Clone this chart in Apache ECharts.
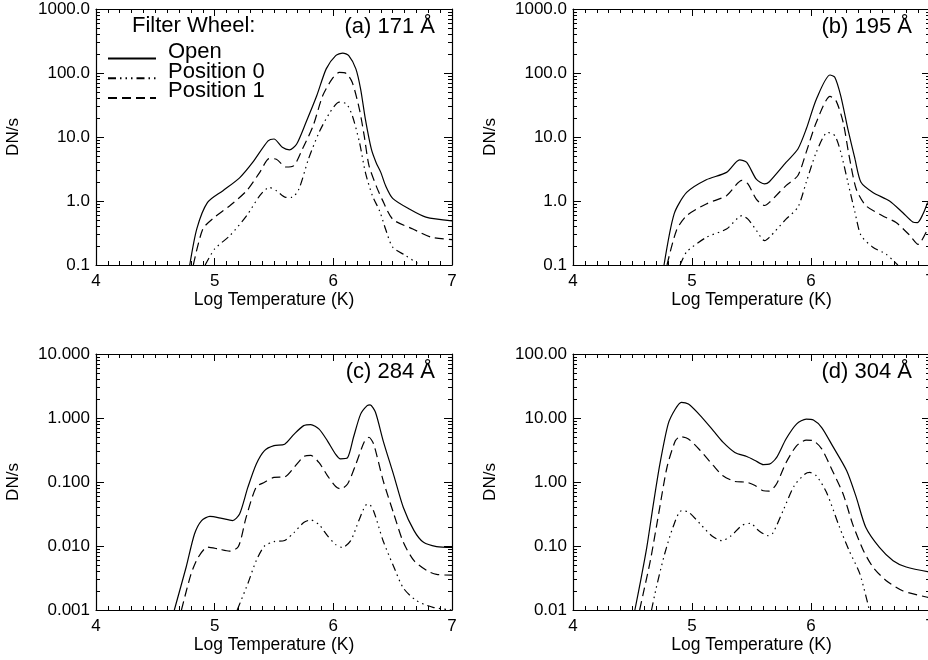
<!DOCTYPE html>
<html><head><meta charset="utf-8">
<script src="https://cdn.jsdelivr.net/npm/echarts@6/dist/echarts.min.js"></script>
<style>html,body{margin:0;padding:0;overflow:hidden;background:#fff}#c{width:932px;height:660px}</style>
</head><body><div id="c"></div><script>
// ---- data: [log T, DN/s] ----
const seriesNames = ['Open', 'Position 0', 'Position 1'];
const xTicks = [4, 5, 6, 7];
const minorMultipliers = [2, 3, 4, 5, 6, 7, 8, 9];

const a171Open = [[4.79,0.1],[4.85,0.37],[4.94,0.95],[5.07,1.45],[5.21,2.3],[5.32,4.0],[5.45,8.7],[5.50,9.3],[5.57,6.9],[5.63,6.3],[5.69,7.7],[5.77,17],[5.86,44],[5.94,116],[6.02,187],[6.08,205],[6.13,187],[6.19,116],[6.23,56],[6.27,19],[6.32,6.5],[6.36,4.0],[6.40,2.8],[6.44,1.74],[6.50,1.1],[6.64,0.75],[6.78,0.56],[7.0,0.49]];
const a171Pos0 = [[4.92,0.1],[5.0,0.178],[5.13,0.29],[5.27,0.59],[5.38,1.21],[5.46,1.63],[5.52,1.45],[5.60,1.14],[5.65,1.14],[5.71,1.54],[5.79,4.5],[5.88,11.8],[5.97,24],[6.05,35],[6.11,33],[6.16,21.5],[6.22,8.3],[6.27,2.8],[6.33,1.2],[6.39,0.70],[6.44,0.365],[6.50,0.19],[6.61,0.14],[6.73,0.1]];
const a171Pos1 = [[4.82,0.1],[4.90,0.365],[4.99,0.54],[5.13,0.85],[5.27,1.45],[5.38,2.8],[5.46,4.6],[5.52,4.5],[5.60,3.4],[5.67,3.6],[5.74,6.5],[5.83,15],[5.91,44],[5.99,81],[6.05,102],[6.11,98],[6.16,71],[6.22,27],[6.26,10.5],[6.30,3.6],[6.36,1.74],[6.41,1.07],[6.50,0.52],[6.67,0.365],[6.83,0.27],[7.0,0.25]];

const b195Open = [[4.765,0.1],[4.85,0.63],[4.955,1.36],[5.12,2.15],[5.29,2.8],[5.40,4.4],[5.46,4.0],[5.54,2.2],[5.61,1.85],[5.65,2.0],[5.79,4.0],[5.89,6.5],[5.96,13.3],[6.045,39],[6.16,93],[6.20,86],[6.25,44],[6.31,13.3],[6.37,4.5],[6.42,1.96],[6.52,1.36],[6.66,1.0],[6.77,0.66],[6.855,0.47],[6.895,0.46],[6.94,0.62],[6.98,0.95]];
const b195Pos0 = [[4.90,0.1],[4.955,0.16],[5.12,0.27],[5.29,0.365],[5.42,0.59],[5.47,0.52],[5.54,0.35],[5.61,0.24],[5.65,0.27],[5.79,0.52],[5.89,0.80],[5.96,1.96],[6.045,5.8],[6.14,11.8],[6.20,10.5],[6.25,5.8],[6.31,1.96],[6.37,0.66],[6.42,0.29],[6.52,0.19],[6.63,0.148],[6.73,0.1]];
const b195Pos1 = [[4.79,0.1],[4.87,0.35],[4.955,0.59],[5.12,0.90],[5.29,1.21],[5.42,2.1],[5.47,1.85],[5.54,1.07],[5.61,0.85],[5.65,0.95],[5.79,1.74],[5.89,2.5],[5.96,5.8],[6.045,17],[6.16,43],[6.21,37],[6.27,17],[6.32,5.1],[6.38,1.54],[6.46,0.85],[6.60,0.59],[6.715,0.46],[6.83,0.29],[6.90,0.21],[6.98,0.365]];

const c284Open = [[4.66,0.001],[4.76,0.0047],[4.83,0.0154],[4.89,0.025],[4.96,0.029],[5.06,0.027],[5.15,0.025],[5.21,0.0316],[5.28,0.083],[5.35,0.19],[5.42,0.31],[5.50,0.37],[5.59,0.39],[5.67,0.56],[5.75,0.76],[5.81,0.79],[5.88,0.67],[5.95,0.44],[6.02,0.27],[6.06,0.23],[6.12,0.24],[6.17,0.50],[6.23,1.15],[6.285,1.56],[6.31,1.6],[6.355,1.23],[6.42,0.44],[6.51,0.126],[6.59,0.04],[6.68,0.0174],[6.76,0.0114],[6.87,0.0098],[7.0,0.0095]];
const c284Pos0 = [[5.19,0.001],[5.28,0.0026],[5.35,0.0059],[5.42,0.010],[5.50,0.0117],[5.59,0.0122],[5.67,0.0163],[5.75,0.0233],[5.81,0.0255],[5.88,0.0215],[5.95,0.0145],[6.02,0.0105],[6.075,0.0095],[6.145,0.012],[6.215,0.025],[6.27,0.043],[6.30,0.045],[6.34,0.035],[6.42,0.012],[6.51,0.0047],[6.59,0.0022],[6.70,0.0014],[6.84,0.0011],[7.0,0.001]];
const c284Pos1 = [[4.72,0.001],[4.80,0.0036],[4.86,0.0066],[4.94,0.0096],[5.03,0.0090],[5.125,0.0083],[5.20,0.0098],[5.265,0.028],[5.35,0.083],[5.42,0.099],[5.50,0.118],[5.59,0.12],[5.67,0.17],[5.75,0.25],[5.81,0.26],[5.88,0.20],[5.95,0.126],[6.02,0.085],[6.06,0.078],[6.12,0.093],[6.19,0.19],[6.26,0.42],[6.30,0.50],[6.34,0.39],[6.42,0.105],[6.51,0.0316],[6.59,0.0114],[6.68,0.0059],[6.79,0.0041],[6.87,0.0036],[7.0,0.0035]];

const d304Open = [[4.52,0.01],[4.564,0.026],[4.62,0.095],[4.676,0.46],[4.73,1.9],[4.80,8.1],[4.86,13.8],[4.91,17.6],[4.97,16.5],[5.07,10.9],[5.18,6.3],[5.26,4.2],[5.36,2.9],[5.46,2.5],[5.53,2.17],[5.60,1.87],[5.65,1.9],[5.71,2.4],[5.79,4.7],[5.88,8.1],[5.96,9.6],[6.02,9.3],[6.09,7.1],[6.18,3.7],[6.30,1.5],[6.38,0.58],[6.46,0.196],[6.575,0.095],[6.69,0.059],[6.80,0.047],[7.0,0.039]];
const d304Pos0 = [[4.66,0.01],[4.70,0.0224],[4.77,0.075],[4.84,0.196],[4.91,0.355],[4.97,0.34],[5.07,0.22],[5.165,0.145],[5.25,0.121],[5.33,0.145],[5.42,0.21],[5.49,0.226],[5.56,0.174],[5.64,0.145],[5.68,0.16],[5.765,0.355],[5.86,0.88],[5.95,1.33],[5.99,1.41],[6.045,1.25],[6.13,0.69],[6.24,0.196],[6.32,0.085],[6.41,0.037],[6.49,0.01]];
const d304Pos1 = [[4.56,0.01],[4.59,0.018],[4.65,0.059],[4.72,0.32],[4.79,1.7],[4.86,4.4],[4.90,5.1],[4.97,4.7],[5.07,3.1],[5.18,1.8],[5.26,1.25],[5.36,1.02],[5.46,0.99],[5.53,0.88],[5.60,0.73],[5.65,0.72],[5.71,0.93],[5.79,2.0],[5.88,3.7],[5.96,4.5],[6.02,4.4],[6.09,3.3],[6.18,1.5],[6.27,0.65],[6.35,0.22],[6.44,0.085],[6.52,0.047],[6.63,0.029],[6.77,0.020],[7.0,0.0155]];

const panelLabels = ['(a) 171 Å', '(b) 195 Å', '(c) 284 Å', '(d) 304 Å'];
const yRanges = [[0.1, 1000], [0.1, 1000], [0.001, 10], [0.01, 100]];
const yDecimals = [1, 1, 3, 2];
const panelData = [
  [a171Open, a171Pos0, a171Pos1],
  [b195Open, b195Pos0, b195Pos1],
  [c284Open, c284Pos0, c284Pos1],
  [d304Open, d304Pos0, d304Pos1]
];

// ---- layout / style ----
const FONT = 'Liberation Sans, Arial, Helvetica, sans-serif';
const boxes = [
  {left: 96, top: 9, width: 356},
  {left: 573, top: 9, width: 357},
  {left: 96, top: 354, width: 356},
  {left: 573, top: 354, width: 357}
];
const H = 256;
const lineTypes = ['solid', [8, 4, 1.5, 4, 1.5, 4, 1.5, 4], [9, 5]];
const axisLine = {show: true, onZero: false, lineStyle: {color: '#000', width: 1.2}};

// log-axis minor tick positions (2..9 per decade), placed via the axis scale
function minorTickValues(range) {
  const out = [];
  const k0 = Math.round(Math.log10(range[0])), k1 = Math.round(Math.log10(range[1]));
  for (let k = k0; k < k1; k++) minorMultipliers.forEach(m => out.push([xTicks[0], m * Math.pow(10, k)]));
  return out;
}

const grid = [], xAxis = [], yAxis = [], series = [], graphic = [];
boxes.forEach((b, p) => {
  grid.push({left: b.left, top: b.top, width: b.width, height: H, containLabel: false, outerBoundsMode: 'none'});
  const xBase = {
    type: 'value', gridIndex: p, min: xTicks[0], max: xTicks[xTicks.length - 1], interval: 1,
    axisLine, splitLine: {show: false},
    axisTick: {show: true, inside: true, length: 7, lineStyle: {color: '#000', width: 1}},
    minorTick: {show: true, splitNumber: 10, length: 4, lineStyle: {color: '#000', width: 1}}
  };
  xAxis.push(Object.assign({}, xBase, {
    position: 'bottom',
    axisLabel: {show: true, margin: 8, fontSize: 17, color: '#000', fontFamily: FONT},
    name: 'Log Temperature (K)', nameLocation: 'middle', nameGap: 26,
    nameTextStyle: {fontSize: 17.5, color: '#000', fontFamily: FONT}
  }));
  xAxis.push(Object.assign({}, xBase, {position: 'top', axisLabel: {show: false}}));
  const yBase = {
    type: 'log', logBase: 10, gridIndex: p, min: yRanges[p][0], max: yRanges[p][1], interval: 1,
    axisLine, splitLine: {show: false},
    axisTick: {show: true, inside: true, length: 8, lineStyle: {color: '#000', width: 1}},
    minorTick: {show: false}
  };
  yAxis.push(Object.assign({}, yBase, {
    position: 'left',
    axisLabel: {show: true, margin: 6, fontSize: 17, color: '#000', fontFamily: FONT,
      formatter: v => Number(v).toFixed(yDecimals[p])},
    name: 'DN/s', nameLocation: 'middle', nameGap: 74,
    nameTextStyle: {fontSize: 17, color: '#000', fontFamily: FONT}
  }));
  yAxis.push(Object.assign({}, yBase, {position: 'right', axisLabel: {show: false}}));
  panelData[p].forEach((d, k) => {
    series.push({
      type: 'line', name: seriesNames[k], data: d,
      xAxisIndex: p * 2, yAxisIndex: p * 2,
      showSymbol: false, symbol: 'none', smooth: 0.25, clip: true,
      lineStyle: {color: '#000', width: 1.2, type: lineTypes[k]},
      itemStyle: {color: '#000'}
    });
  });
  // minor log ticks on left and right frame edges
  series.push({
    type: 'custom', name: 'minorTicks' + p, xAxisIndex: p * 2, yAxisIndex: p * 2,
    data: minorTickValues(yRanges[p]), silent: true, clip: false, z: 5,
    renderItem: (params, api) => {
      const v = api.value(1);
      const L = api.coord([xTicks[0], v]);
      const R = api.coord([xTicks[xTicks.length - 1], v]);
      const y = Math.round(L[1]) + 0.5;
      return {type: 'group', children: [
        {type: 'line', shape: {x1: L[0], y1: y, x2: L[0] + 4, y2: y}, style: {stroke: '#000', lineWidth: 1}},
        {type: 'line', shape: {x1: R[0] - 4, y1: y, x2: R[0], y2: y}, style: {stroke: '#000', lineWidth: 1}}
      ]};
    }
  });
  graphic.push({
    type: 'text', x: b.left + 339, y: b.top + 18,
    style: {text: panelLabels[p], textAlign: 'right', textVerticalAlign: 'middle',
      fontSize: 22, fontFamily: FONT, fill: '#000'}
  });
});
graphic.push({
  type: 'text', x: 132, y: 26,
  style: {text: 'Filter Wheel:', textAlign: 'left', textVerticalAlign: 'middle',
    fontSize: 22, fontFamily: FONT, fill: '#000'}
});

const chart = echarts.init(document.getElementById('c'), null, {renderer: 'canvas'});
chart.setOption({
  animation: false,
  backgroundColor: '#fff',
  grid, xAxis, yAxis, series, graphic,
  legend: {
    data: seriesNames, orient: 'vertical', left: 107, top: 41, padding: 0,
    itemWidth: 48, itemHeight: 14, itemGap: -15.3, selectedMode: false,
    itemStyle: {opacity: 0, color: 'transparent', borderWidth: 0},
    formatter: name => '{t|' + name + '}',
    textStyle: {fontSize: 22, color: '#000', fontFamily: FONT,
      rich: {t: {fontSize: 22, color: '#000', fontFamily: FONT, lineHeight: 20, padding: [0, 0, 13, 7]}}}
  }
});
</script></body></html>
